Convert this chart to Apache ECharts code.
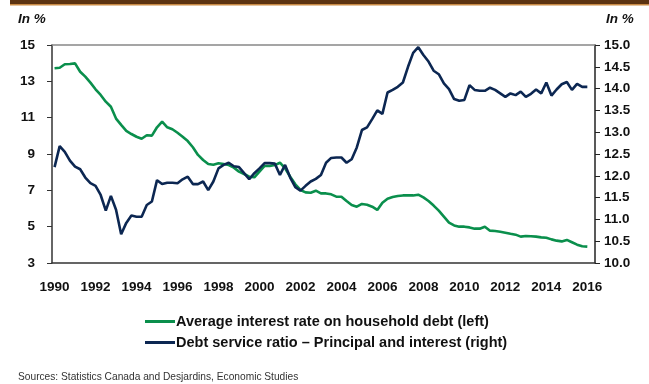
<!DOCTYPE html>
<html>
<head>
<meta charset="utf-8">
<script src="https://cdn.jsdelivr.net/npm/echarts@6/dist/echarts.min.js"></script>
<style>
  html, body { margin: 0; padding: 0; background: #fff; }
  #chart { width: 649px; height: 384px; }
</style>
</head>
<body>
<div id="chart"></div>
<script>
// quarterly series, 1990Q1 onwards
const startYear = 1990
const quarterCount = 106
const seriesNames = [
  'Average interest rate on household debt (left)',
  'Debt service ratio \u2013 Principal and interest (right)',
]
const interestRate = [
  13.72, 13.75, 13.94, 13.95, 13.99, 13.53, 13.26, 12.93, 12.56, 12.25,
  11.88, 11.6, 10.95, 10.6, 10.27, 10.1, 9.95, 9.84, 10.03, 10.01,
  10.47, 10.78, 10.47, 10.36, 10.17, 9.95, 9.71, 9.37, 8.95, 8.67,
  8.45, 8.41, 8.49, 8.45, 8.39, 8.25, 8.03, 7.9, 7.75, 7.72,
  8.03, 8.34, 8.34, 8.39, 8.52, 8.21, 7.75, 7.33, 7.02, 6.89,
  6.87, 6.98, 6.83, 6.83, 6.78, 6.65, 6.65, 6.41, 6.19, 6.1,
  6.25, 6.21, 6.1, 5.92, 6.32, 6.54, 6.63, 6.69, 6.72, 6.72,
  6.72, 6.76, 6.61, 6.41, 6.16, 5.88, 5.55, 5.22, 5.07, 5.0,
  5.0, 4.96, 4.89, 4.89, 5.0, 4.78, 4.76, 4.72, 4.67, 4.61,
  4.56, 4.45, 4.49, 4.47, 4.45, 4.41, 4.39, 4.3, 4.23, 4.19,
  4.27, 4.14, 4.01, 3.92, 3.9,
]
const debtServiceRatio = [
  12.2, 12.68, 12.55, 12.35, 12.21, 12.15, 11.96, 11.83, 11.77, 11.56,
  11.2, 11.54, 11.22, 10.66, 10.92, 11.09, 11.06, 11.06, 11.33, 11.41,
  11.9, 11.81, 11.84, 11.84, 11.83, 11.92, 11.98, 11.81, 11.81, 11.87,
  11.67, 11.87, 12.17, 12.25, 12.3, 12.22, 12.2, 12.06, 11.92, 12.06,
  12.17, 12.29, 12.29, 12.28, 12.02, 12.25, 11.96, 11.74, 11.66, 11.77,
  11.87, 11.93, 12.02, 12.3, 12.41, 12.42, 12.42, 12.3, 12.38, 12.65,
  13.05, 13.11, 13.3, 13.5, 13.42, 13.91, 13.97, 14.04, 14.14, 14.5,
  14.82, 14.95, 14.77, 14.62, 14.41, 14.33, 14.12, 13.99, 13.76, 13.72,
  13.74, 14.08, 13.97, 13.95, 13.95, 14.02, 13.97, 13.89, 13.81, 13.89,
  13.85, 13.93, 13.81, 13.88, 13.98, 13.89, 14.14, 13.84, 13.98, 14.1,
  14.15, 13.97, 14.11, 14.04, 14.04,
]

const quarters = []
for (let i = 0; i < quarterCount; i++) {
  quarters.push(startYear + Math.floor(i / 4) + 'Q' + ((i % 4) + 1))
}

const green = '#0a8f4c'
const navy = '#0c2752'
const font = 'Liberation Sans, Arial, sans-serif'

const chart = echarts.init(document.getElementById('chart'))
chart.setOption({
  animation: false,
  textStyle: { fontFamily: font },
  grid: { left: 52, right: 54, top: 45, bottom: 121 },
  graphic: [
    { type: 'rect', shape: { x: 10, y: 0, width: 639, height: 4 }, style: { fill: '#5c3311' } },
    { type: 'rect', shape: { x: 10, y: 4, width: 639, height: 1.5 }, style: { fill: '#c98a45' } },
    { type: 'text', left: 18, top: 12, style: { text: 'In %', font: 'italic bold 13.5px ' + font, fill: '#111' } },
    { type: 'text', left: 606, top: 12, style: { text: 'In %', font: 'italic bold 13.5px ' + font, fill: '#111' } },
    { type: 'text', left: 18, top: 372, style: { text: 'Sources: Statistics Canada and Desjardins, Economic Studies', font: '10.2px ' + font, fill: '#333' } },
  ],
  legend: {
    orient: 'vertical',
    left: 140,
    top: 309,
    itemGap: 6,
    itemWidth: 30,
    itemHeight: 3,
    icon: 'rect',
    textStyle: { fontSize: 14.5, fontWeight: 'bold', color: '#111', padding: [0, 0, 0, -4] },
    data: seriesNames,
  },
  xAxis: [
    {
      type: 'category',
      data: quarters,
      boundaryGap: true,
      axisLine: { lineStyle: { color: '#333', width: 1.5 } },
      axisTick: { show: false },
      axisLabel: {
        interval: (idx) => idx % 8 === 0,
        formatter: (v) => v.slice(0, 4),
        margin: 17,
        fontSize: 13.5,
        fontWeight: 'bold',
        color: '#111',
      },
      splitLine: { show: false },
    },
    {
      type: 'category',
      data: quarters,
      position: 'top',
      axisLine: { lineStyle: { color: '#888', width: 1.5 } },
      axisTick: { show: false },
      axisLabel: { show: false },
    },
  ],
  yAxis: [
    {
      type: 'value',
      min: 3,
      max: 15,
      interval: 2,
      axisLine: { show: true, lineStyle: { color: '#333', width: 1.5 } },
      axisTick: { show: true, length: 5, lineStyle: { color: '#333' } },
      axisLabel: { margin: 17, fontSize: 13.5, fontWeight: 'bold', color: '#111' },
      splitLine: { show: false },
    },
    {
      type: 'value',
      min: 10,
      max: 15,
      interval: 0.5,
      position: 'right',
      axisLine: { show: true, lineStyle: { color: '#222', width: 1.5 } },
      axisTick: { show: true, length: 5, lineStyle: { color: '#222' } },
      axisLabel: {
        margin: 9,
        fontSize: 13.5,
        fontWeight: 'bold',
        color: '#111',
        formatter: (v) => v.toFixed(1),
      },
      splitLine: { show: false },
    },
  ],
  series: [
    {
      name: seriesNames[0],
      type: 'line',
      yAxisIndex: 0,
      data: interestRate,
      symbol: 'none',
      lineStyle: { color: green, width: 2.6 },
      itemStyle: { color: green },
    },
    {
      name: seriesNames[1],
      type: 'line',
      yAxisIndex: 1,
      data: debtServiceRatio,
      symbol: 'none',
      lineStyle: { color: navy, width: 2.6 },
      itemStyle: { color: navy },
    },
  ],
})
</script>
</body>
</html>
